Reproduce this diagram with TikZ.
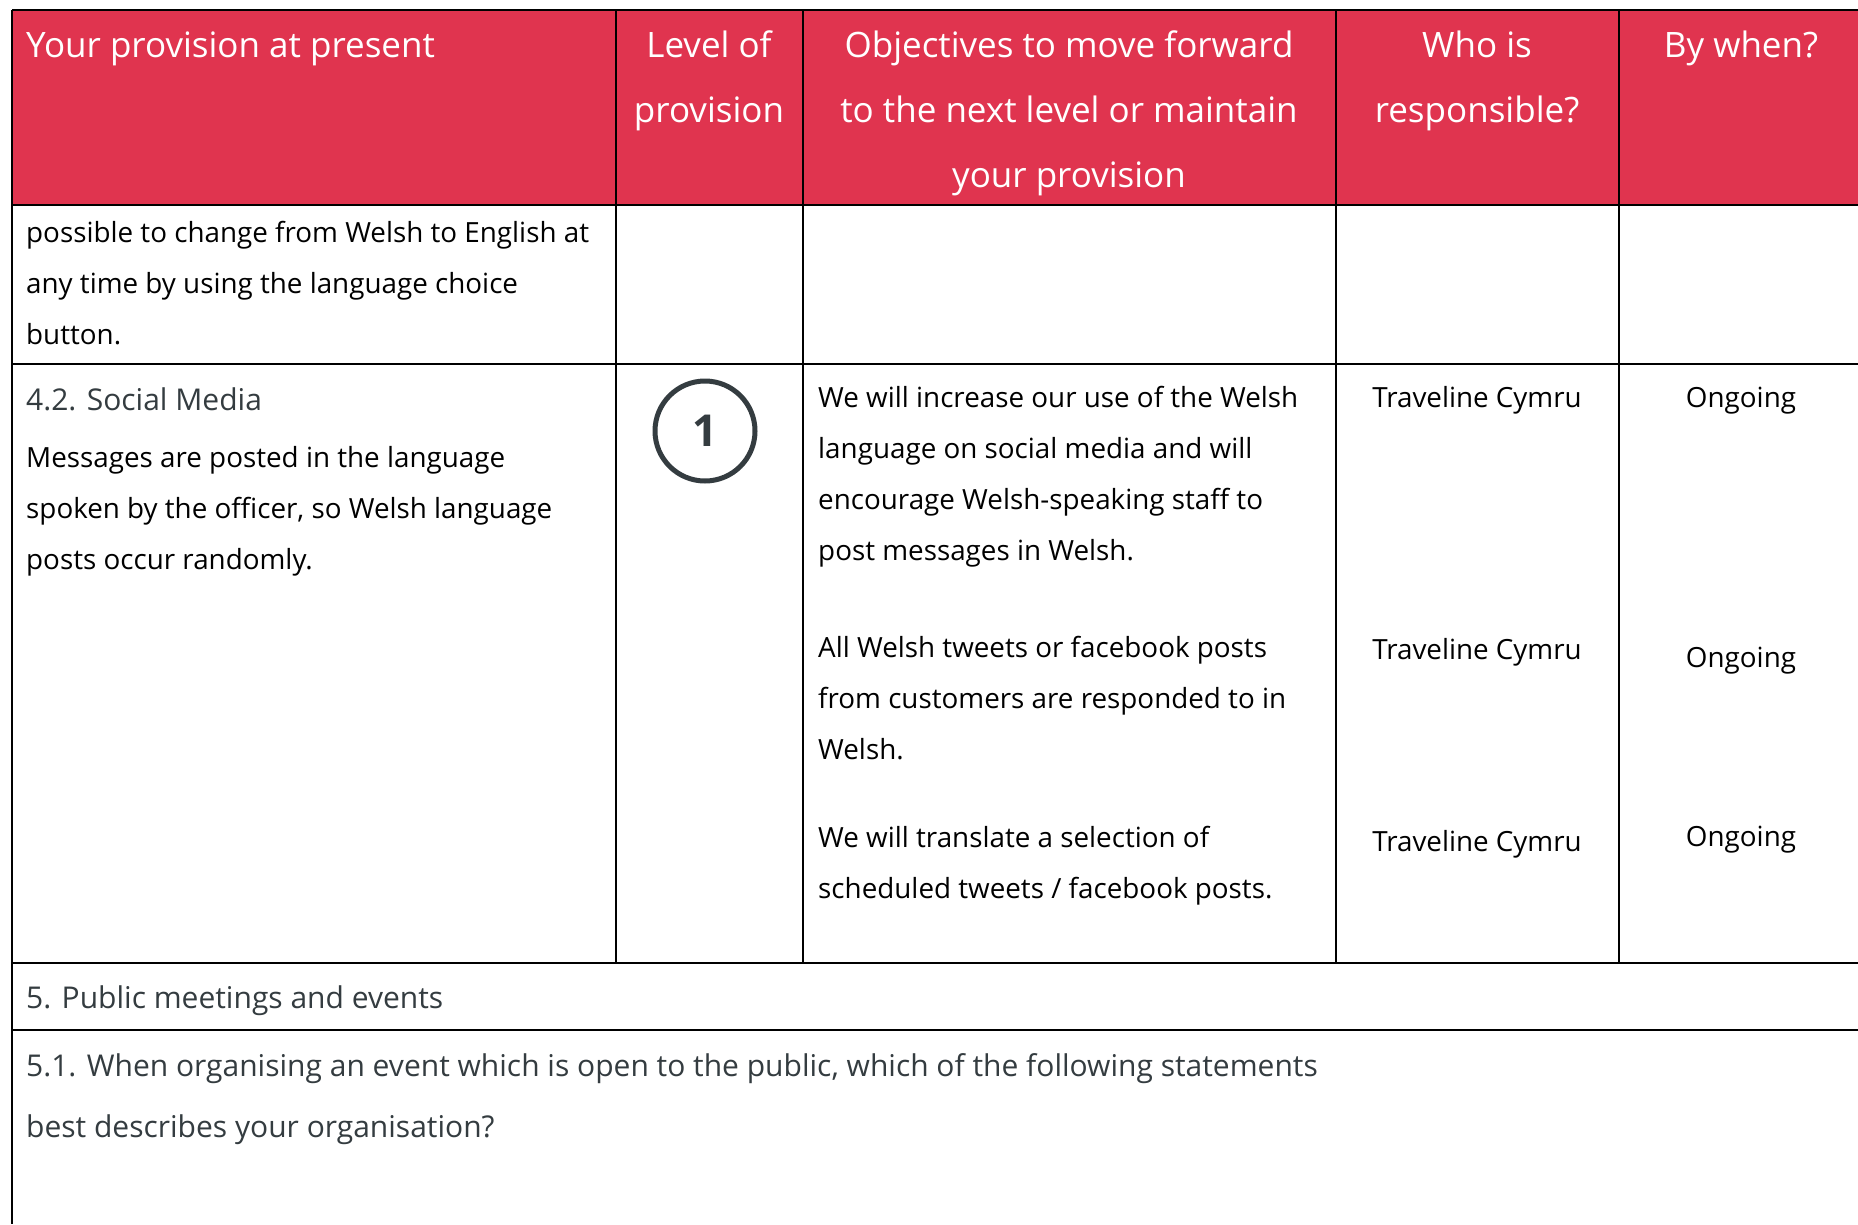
\documentclass[tikz,border=0pt]{standalone}
\usepackage{fontspec}
\setmainfont{Open Sans}
\usetikzlibrary{positioning}

\definecolor{headred}{RGB}{224,52,79}
\definecolor{headgrey}{RGB}{52,60,64}

\tikzset{
  headtxt/.style={text=white,inner sep=0pt,font=\fontsize{35}{65}\selectfont},
  bodytxt/.style={text=black,inner sep=0pt,anchor=base west,align=left,font=\fontsize{27.8}{51}\selectfont},
  subhead/.style={text=headgrey,inner sep=0pt,anchor=base west,align=left,font=\fontsize{30}{60.5}\selectfont},
  rule/.style={line width=2pt,black}
}

\begin{document}
\begin{tikzpicture}[x=1pt,y=-1pt]
\useasboundingbox (0,0) rectangle (1858,1224);

% header band
\fill[headred] (12,10) rectangle (1858,205);

% table rules
\draw[rule] (12,10) -- (1858,10);
\draw[rule] (12,10) -- (12,1224);
\draw[line width=2.6pt] (12,205) -- (1858,205);
\draw[rule] (12,364) -- (1858,364);
\draw[rule] (12,963) -- (1858,963);
\draw[rule] (12,1030) -- (1858,1030);
\foreach \cx in {616,803,1336,1619}
  \draw[rule] (\cx,10) -- (\cx,963);

% header texts (base = last line)
\node[headtxt,anchor=base west] (hprov) at (26,57) {Your provision at present};
\node[headtxt,anchor=base,align=center] (hlevel) at (709,122) {Level of\\provision};
\node[headtxt,anchor=base,align=center] (hobj) at (1069,187) {Objectives to move forward\\to the next level or maintain\\your provision};
\node[headtxt,anchor=base,align=center] (hwho) at (1477,122) {Who is\\responsible?};
\node[headtxt,anchor=base] (hwhen) at (1741,57) {By when?};

% carried-over row
\node[bodytxt] (prevrow) at (26,344) {possible to change from Welsh to English at\\any time by using the language choice\\button.};

% 4.2 social media
\node[subhead] (social) at (26,410) {4.2. Social Media};
\node[bodytxt] (socialtxt) at (26,569) {Messages are posted in the language\\spoken by the officer, so Welsh language\\posts occur randomly.};
\node[circle,draw=headgrey,line width=5pt,minimum size=100pt,inner sep=0pt,
      text=headgrey,font=\fontsize{44}{44}\selectfont\bfseries] (level) at (705,431) {1};

\node[bodytxt] (obja) at (818,560) {We will increase our use of the Welsh\\language on social media and will\\encourage Welsh-speaking staff to\\post messages in Welsh.};
\node[bodytxt] (objb) at (818,759) {All Welsh tweets or facebook posts\\from customers are responded to in\\Welsh.};
\node[bodytxt] (objc) at (818,898) {We will translate a selection of\\scheduled tweets / facebook posts.};

\node[bodytxt,anchor=base] (whoa) at (1477,407) {Traveline Cymru};
\node[bodytxt,anchor=base] (whob) at (1477,659) {Traveline Cymru};
\node[bodytxt,anchor=base] (whoc) at (1477,851) {Traveline Cymru};
\node[bodytxt,anchor=base] (whena) at (1741,407) {Ongoing};
\node[bodytxt,anchor=base] (whenb) at (1741,667) {Ongoing};
\node[bodytxt,anchor=base] (whenc) at (1741,846) {Ongoing};

% 5 public meetings
\node[subhead] (public) at (26,1008) {5. Public meetings and events};
\node[subhead] (publicq) at (26,1137) {5.1. When organising an event which is open to the public, which of the following statements\\best describes your organisation?};
\end{tikzpicture}
\end{document}
